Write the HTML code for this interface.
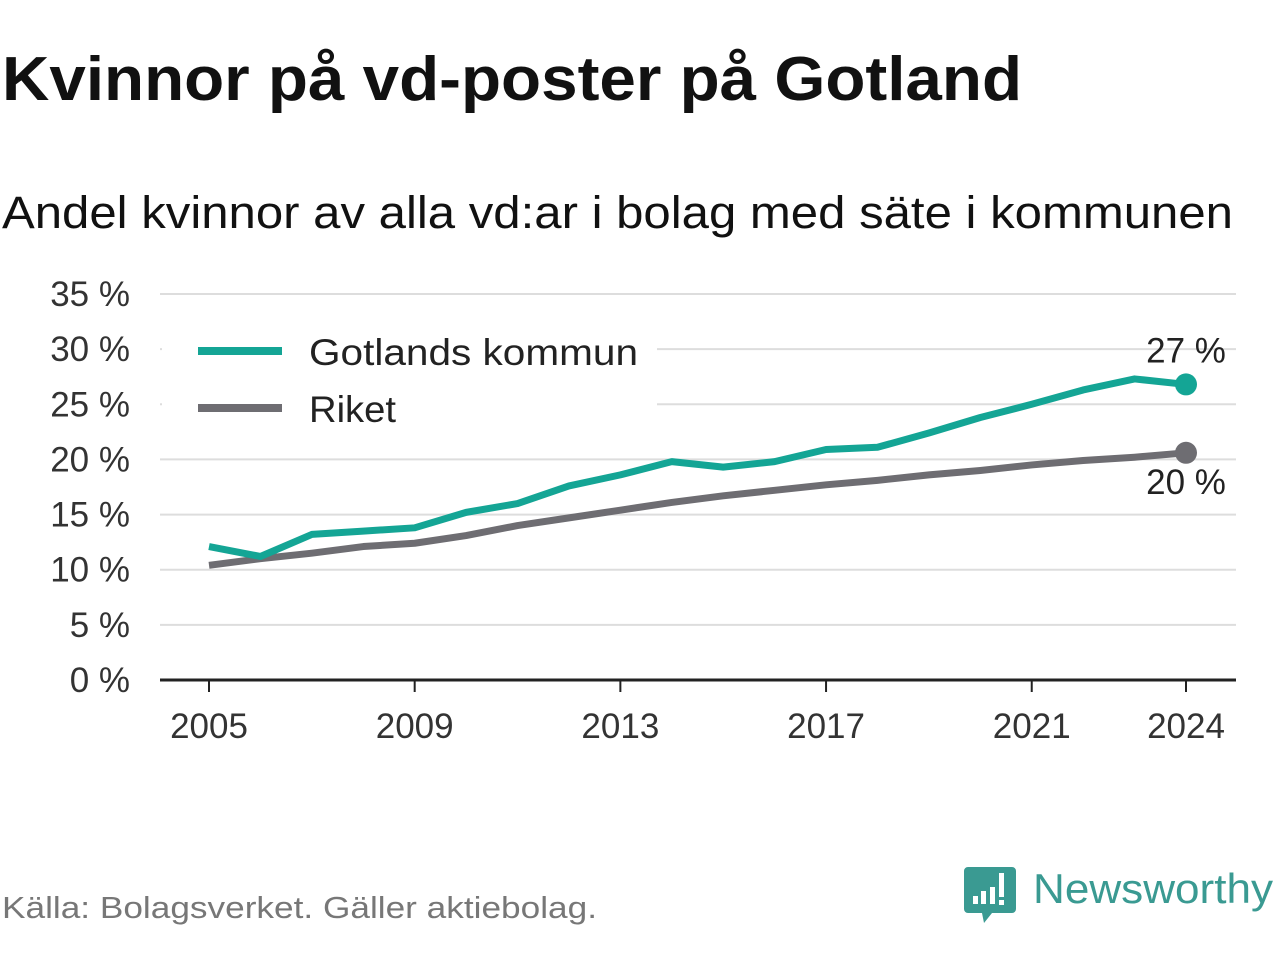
<!DOCTYPE html>
<html><head><meta charset="utf-8"><style>
html,body{margin:0;padding:0;background:#fff;width:1280px;height:960px;overflow:hidden;font-family:"Liberation Sans",sans-serif}
</style></head><body>
<svg id="c" width="1280" height="960" xmlns="http://www.w3.org/2000/svg">
<text x="2" y="100" font-size="62" font-weight="bold" fill="#111" textLength="1020" lengthAdjust="spacingAndGlyphs">Kvinnor på vd-poster på Gotland</text>
<text x="2" y="228" font-size="45" fill="#111" textLength="1231" lengthAdjust="spacingAndGlyphs">Andel kvinnor av alla vd:ar i bolag med säte i kommunen</text>
<g id="grid"></g>
<rect x="162" y="325" width="495" height="105" fill="#fff"/>
<g id="marks"></g>
<g>
<line x1="198" y1="351" x2="282" y2="351" stroke="#14a595" stroke-width="8"/>
<text x="309" y="365" font-size="37" fill="#222" textLength="329" lengthAdjust="spacingAndGlyphs">Gotlands kommun</text>
<line x1="198" y1="408" x2="282" y2="408" stroke="#6e6d72" stroke-width="8"/>
<text x="309" y="422" font-size="37" fill="#222" textLength="87" lengthAdjust="spacingAndGlyphs">Riket</text>
</g>
<text x="2" y="918" font-size="31" fill="#777" textLength="595" lengthAdjust="spacingAndGlyphs">Källa: Bolagsverket. Gäller aktiebolag.</text>
<g>
<path d="M968 867 h44 a4 4 0 0 1 4 4 v38 a4 4 0 0 1 -4 4 h-20 l-8 10 l-2 -10 h-14 a4 4 0 0 1 -4 -4 v-38 a4 4 0 0 1 4 -4z" fill="#3a9a92"/>
<rect x="973" y="896" width="5" height="8" fill="#fff"/><rect x="981" y="891" width="5" height="13" fill="#fff"/><rect x="990" y="887" width="5" height="17" fill="#fff"/><rect x="999" y="873" width="5" height="24" fill="#fff"/><rect x="999" y="900" width="5" height="5" fill="#fff"/>
<text x="1033" y="903" font-size="42" fill="#3a9a92" textLength="240" lengthAdjust="spacingAndGlyphs">Newsworthy</text>
</g>
</svg>
<script>
const years=[2005,2006,2007,2008,2009,2010,2011,2012,2013,2014,2015,2016,2017,2018,2019,2020,2021,2022,2023,2024];
const gotland=[12.1,11.2,13.2,13.5,13.8,15.2,16.0,17.6,18.6,19.8,19.3,19.8,20.9,21.1,22.4,23.8,25.0,26.3,27.3,26.8];
const riket=[10.4,11.0,11.5,12.1,12.4,13.1,14.0,14.7,15.4,16.1,16.7,17.2,17.7,18.1,18.6,19.0,19.5,19.9,20.2,20.6];
const yTicks=[0,5,10,15,20,25,30,35];
const xTicks=[2005,2009,2013,2017,2021,2024];
const endLabels=["27 %","20 %"];
const NS="http://www.w3.org/2000/svg";
const X=y=>209+(y-2005)*(1186-209)/19;
const Y=v=>680-v*(680-294)/35;
function mk(t,a,p){const e=document.createElementNS(NS,t);for(const k in a)e.setAttribute(k,a[k]);p.appendChild(e);return e;}
const grid=document.getElementById('grid'),marks=document.getElementById('marks');
yTicks.forEach(v=>{
 if(v>0){const l=mk('line',{x1:160,x2:1236,y1:Y(v),y2:Y(v),stroke:'#ddd','stroke-width':2},grid);
 
 }
 const t=mk('text',{x:130,y:Y(v)+12,'font-size':35,fill:'#333','text-anchor':'end'},grid);t.textContent=v+' %';
 
 
});
const ax=mk('line',{x1:160,x2:1236,y1:680,y2:680,stroke:'#222','stroke-width':3},grid);


xTicks.forEach(y=>{
 const tk=mk('line',{x1:X(y),x2:X(y),y1:680,y2:692,stroke:'#222','stroke-width':2},grid);
 
 
 const t=mk('text',{x:X(y),y:738,'font-size':35,fill:'#333','text-anchor':'middle'},grid);t.textContent=y;
 
 
});
function series(vals,col,name){
 const p=mk('polyline',{points:vals.map((v,i)=>X(years[i])+','+Y(v)).join(' '),fill:'none',stroke:col,'stroke-width':7,'stroke-linejoin':'round'},marks);
 
 
 const n=vals.length-1;
 const c=mk('circle',{cx:X(years[n]),cy:Y(vals[n]),r:11,fill:col},marks);
 
 
}
series(riket,'#6e6d72','riket');
series(gotland,'#14a595','gotland');
const n=years.length-1;
const l1=mk('text',{x:X(years[n]),y:Y(gotland[n])-22,'font-size':35,fill:'#222','text-anchor':'middle'},marks);l1.textContent=endLabels[0];


const l2=mk('text',{x:X(years[n]),y:Y(riket[n])+41,'font-size':35,fill:'#222','text-anchor':'middle'},marks);l2.textContent=endLabels[1];


</script>
</body></html>
